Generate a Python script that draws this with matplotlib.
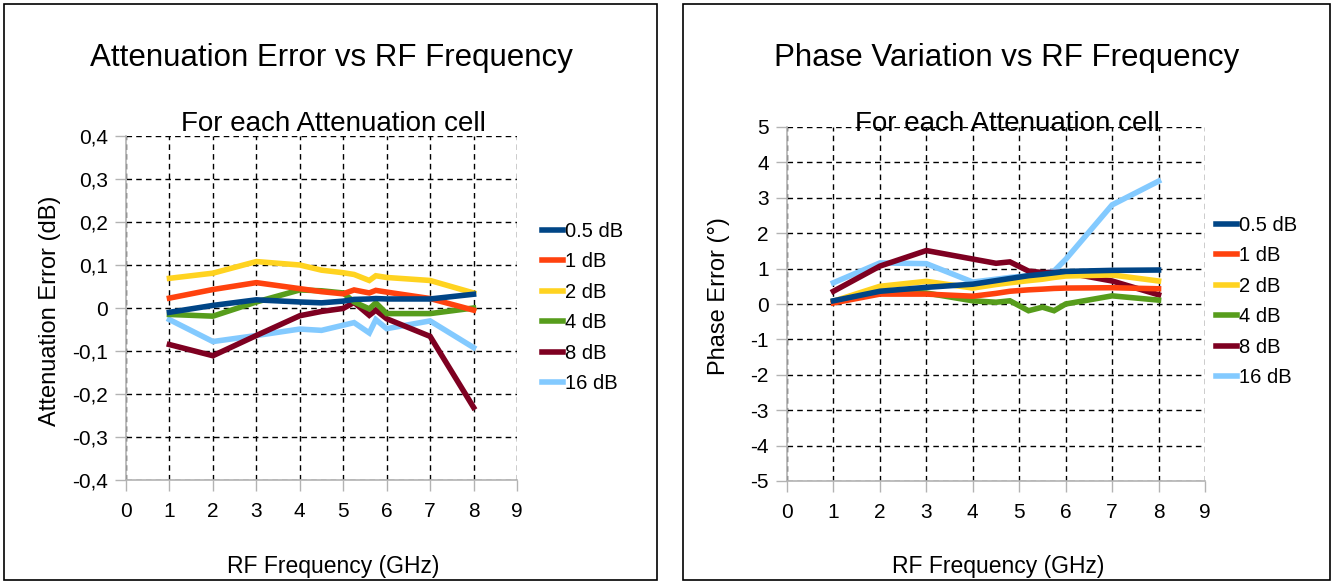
import matplotlib
matplotlib.use("Agg")
import matplotlib.pyplot as plt
from matplotlib.patches import Rectangle
from matplotlib.ticker import FuncFormatter, MultipleLocator

plt.rcParams['font.family'] = ['Liberation Sans', 'DejaVu Sans']

series_labels = ["0.5 dB", "1 dB", "2 dB", "4 dB", "8 dB", "16 dB"]
colors = ["#004586", "#ff420e", "#ffd320", "#579d1c", "#7e0021", "#83caff"]

# Attenuation error (dB)
x_att = [1, 2, 3, 4, 4.5, 5, 5.25, 5.6, 5.75, 6, 7, 8]
att_05 = [-0.010, 0.006, 0.019, 0.014, 0.012, 0.016, 0.020, 0.021, 0.022, 0.021, 0.021, 0.032]
att_1 = [0.023, 0.043, 0.059, 0.045, 0.038, 0.033, 0.042, 0.035, 0.041, 0.037, 0.022, -0.005]
att_2 = [0.069, 0.081, 0.108, 0.100, 0.088, 0.082, 0.078, 0.064, 0.075, 0.071, 0.064, 0.035]
att_4 = [-0.015, -0.019, 0.014, 0.042, 0.040, 0.035, 0.014, -0.002, 0.012, -0.013, -0.013, 0.000]
att_8 = [-0.085, -0.111, -0.064, -0.018, -0.008, -0.001, 0.013, -0.017, -0.005, -0.025, -0.066, -0.231]
att_16 = [-0.027, -0.078, -0.064, -0.049, -0.052, -0.040, -0.034, -0.058, -0.027, -0.048, -0.030, -0.092]

# Phase error (deg)
x_ph = [1, 2, 3, 4, 4.5, 4.8, 5.2, 5.5, 5.75, 6, 7, 8]
ph_05 = [0.09, 0.36, 0.47, 0.56, 0.66, 0.72, 0.80, 0.84, 0.88, 0.92, 0.95, 0.96]
ph_1 = [0.03, 0.28, 0.28, 0.22, 0.30, 0.36, 0.40, 0.42, 0.44, 0.45, 0.46, 0.43]
ph_2 = [0.08, 0.50, 0.64, 0.45, 0.55, 0.60, 0.66, 0.70, 0.75, 0.79, 0.82, 0.65]
ph_4 = [0.08, 0.36, 0.31, 0.09, 0.05, 0.09, -0.19, -0.09, -0.19, 0.00, 0.23, 0.11]
ph_8 = [0.36, 1.07, 1.51, 1.27, 1.15, 1.19, 0.93, 0.89, 0.89, 0.89, 0.65, 0.26]
ph_16 = [0.60, 1.16, 1.14, 0.62, 0.70, 0.75, 0.80, 0.85, 0.93, 1.26, 2.80, 3.47]

att_series = [att_05, att_1, att_2, att_4, att_8, att_16]
ph_series = [ph_05, ph_1, ph_2, ph_4, ph_8, ph_16]

W, H = 1332, 582
fig = plt.figure(figsize=(W / 100, H / 100), dpi=100)
fig.patch.set_facecolor("white")

def fx(p):
    return p / W

def fy(p):
    return 1 - p / H

# panel borders
for (x0, x1) in [(4, 657), (683, 1330)]:
    fig.patches.append(Rectangle((fx(x0), fy(580)), fx(x1 - x0), (580 - 4) / H,
                                 transform=fig.transFigure, fill=False,
                                 edgecolor="black", linewidth=1.2))

def style_axes(ax, ymin, ymax, ystep, fmt):
    ax.set_xlim(0, 9)
    ax.set_ylim(ymin, ymax)
    ax.xaxis.set_major_locator(MultipleLocator(1))
    ax.yaxis.set_major_locator(MultipleLocator(ystep))
    ax.yaxis.set_major_formatter(FuncFormatter(fmt))
    for s in ["top", "right"]:
        ax.spines[s].set_visible(False)
    for s in ["left", "bottom"]:
        ax.spines[s].set_color("#b3b3b3")
        ax.spines[s].set_linewidth(1.2)
    ax.tick_params(direction="out", length=8, width=1, color="#b3b3b3",
                   labelsize=15, labelcolor="black")
    ax.tick_params(axis="x", pad=8)
    ax.tick_params(axis="y", pad=5)
    ax.grid(True, color="black", linestyle=(0, (4, 3)), linewidth=1)
    ax.set_axisbelow(True)

def att_fmt(v, pos):
    if abs(v) < 1e-9:
        return "0"
    return ("%.1f" % v).replace(".", ",")

def ph_fmt(v, pos):
    return "%d" % round(v)

leg_kw = dict(frameon=False, fontsize=14.5, handlelength=1.05, handletextpad=0.08,
              labelspacing=0.57, borderaxespad=0, borderpad=0)
handles = [plt.Line2D([], [], color=c, linewidth=4) for c in colors]

# Left chart
axL = fig.add_axes([fx(126), fy(480), fx(517 - 126), (480 - 136) / H])
style_axes(axL, -0.4, 0.4, 0.1, att_fmt)
for i in reversed(range(6)):
    axL.plot(x_att, att_series[i], color=colors[i], linewidth=4,
             solid_joinstyle="miter", zorder=3 + (5 - i))
axL.legend(handles, series_labels, loc="upper left", bbox_to_anchor=(fx(542), fy(222)),
           bbox_transform=fig.transFigure, **leg_kw)
fig.text(fx(331), fy(58), "Attenuation Error vs RF Frequency", ha="center", va="center", fontsize=22.5)
fig.text(fx(333), fy(124), "For each Attenuation cell", ha="center", va="center", fontsize=20)
fig.text(fx(333), fy(566), "RF Frequency (GHz)", ha="center", va="center", fontsize=16.5)
fig.text(fx(50), fy(311), "Attenuation Error (dB)", ha="center", va="center", fontsize=17, rotation=90)

# Right chart
axR = fig.add_axes([fx(787), fy(481), fx(1205 - 787), (481 - 127) / H])
style_axes(axR, -5, 5, 1, ph_fmt)
for i in reversed(range(6)):
    axR.plot(x_ph, ph_series[i], color=colors[i], linewidth=4,
             solid_joinstyle="miter", zorder=3 + (5 - i))
axR.legend(handles, series_labels, loc="upper left", bbox_to_anchor=(fx(1216), fy(216)),
           bbox_transform=fig.transFigure, **leg_kw)
fig.text(fx(1007), fy(58), "Phase Variation vs RF Frequency", ha="center", va="center", fontsize=22.5)
fig.text(fx(1007), fy(124), "For each Attenuation cell", ha="center", va="center", fontsize=20, zorder=10)
fig.text(fx(998), fy(566), "RF Frequency (GHz)", ha="center", va="center", fontsize=16.5)
fig.text(fx(719), fy(296), "Phase Error (°)", ha="center", va="center", fontsize=17, rotation=90)

fig.savefig("out.png", dpi=100, facecolor="white")
